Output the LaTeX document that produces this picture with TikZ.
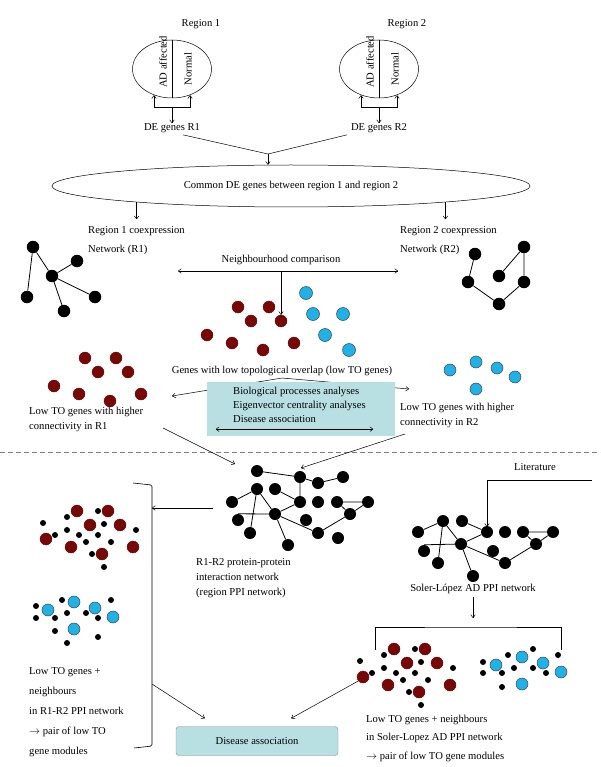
\documentclass[tikz,border=0pt]{standalone}
\usepackage{fontspec}
\setmainfont{Liberation Serif}
\usetikzlibrary{arrows.meta, positioning, shapes.geometric}
\definecolor{lowRed}{RGB}{120,8,8}
\definecolor{lowBlue}{RGB}{32,178,230}
\definecolor{paleTeal}{RGB}{184,224,227}
\tikzset{%
    gene/.style = {circle, fill=black, inner sep=0pt, minimum size=12.5pt},
    redgene/.style = {circle, fill=lowRed, draw=lowRed!80!black, inner sep=0pt, minimum size=12pt},
    bluegene/.style = {circle, fill=lowBlue, draw=black!75, line width=0.5pt, inner sep=0pt, minimum size=12pt},
    nbr/.style = {circle, fill=black, inner sep=0pt, minimum size=6pt},
    txt/.style = {font=\fontsize{10.6}{15}\selectfont, inner sep=0pt, align=left},
    lines/.style = {font=\fontsize{10.6}{#1}\selectfont},
    tissue/.style = {ellipse, draw, line width=0.5pt, minimum width=79pt, minimum height=58pt, inner sep=0pt},
    line/.style = {draw=black, line width=0.5pt, ->},
    link/.style = {draw=black, line width=0.8pt},
}
% a module of low TO genes, red (8) or blue (5)
\newcommand{\redmodule}[2]{%
    \begin{scope}[shift={(#2)}]
    \foreach \dx/\dy [count=\k] in {31/-28,62/-28,44/-14,74/-14,0/0,25/8,56/15,87/8}
        \node[redgene] (#1\k) at (\dx,\dy) {};
    \end{scope}}
\newcommand{\bluemodule}[2]{%
    \begin{scope}[shift={(#2)}]
    \foreach \dx/\dy [count=\k] in {0/0,26/-8,47/-2,65/7,26/19}
        \node[bluegene] (#1\k) at (\dx,\dy) {};
    \end{scope}}
% neighbours in the PPI network
\newcommand{\nbrdots}[3]{%
    \begin{scope}[shift={(#2)}]
    \foreach \dx/\dy [count=\k] in {#3}
        \node[nbr] (#1\k) at (\dx,\dy) {};
    \end{scope}}

\begin{document}
\begin{tikzpicture}[x=1pt, y=-1pt, >={To[length=3.5pt, width=5pt]}]
\useasboundingbox (0,0) rectangle (600,767);

% two regions
\node[tissue] (reg1) at (172,69) {};
\node[tissue] (reg2) at (379,69) {};
\node[txt] (reg1name) at (201,24) {Region 1};
\node[txt] (reg2name) at (407,24) {Region 2};
\node[txt] (deg1) at (172,128) {DE genes R1};
\node[txt] (deg2) at (379,128) {DE genes R2};
\foreach \r/\d in {reg1/deg1, reg2/deg2} {
    \draw[line width=0.5pt] (\r.north) -- (\r.south);
    \node[txt, rotate=90] (\r-ad) at ([xshift=-9pt, yshift=7pt]\r.center) {AD affected};
    \node[txt, rotate=90] (\r-nm) at ([xshift=16pt]\r.center) {Normal};
    \draw[line width=0.5pt, <->] ([xshift=-18pt, yshift=3pt]\r.south) -- ++(0,12) -- ++(36,0) -- ++(0,-12);
    \path[line] ([yshift=-9pt]\r.south) -- (\d.north);
}
\coordinate (join) at (268,154);
\draw[line width=0.5pt] ([xshift=11pt, yshift=-2pt]deg1.south) -- (join) -- ([xshift=-32pt, yshift=-2pt]deg2.south);
\node[ellipse, draw, line width=0.5pt, minimum width=478pt, minimum height=42pt, txt] (common) at (291,186)
    {Common DE genes between region 1 and region 2};
\path[line] (join) -- (join |- common.north);

% coexpression networks
\node[txt, lines=19, anchor=west] (co1) at (88,241) {Region 1 coexpression\\Network (R1)};
\node[txt, lines=19, anchor=west] (co2) at (400,241) {Region 2 coexpression\\Network (R2)};
\path[line] (common.186) -- ++(0,17);
\path[line] (common.354) -- ++(0,17);
\foreach \n/\x/\y in {a/33/247, b/77/261, c/52/276, d/27/297, e/95/297, f/64/311}
    \node[gene] (one\n) at (\x,\y) {};
\draw[link] (onea) -- (onec) (onea) -- (oned) (onec) -- (oneb) (onec) -- (onee) (onec) -- (onef);
\foreach \n/\x/\y in {a/475/254, b/524/247, c/499/276, d/468/282, e/524/282, f/499/304}
    \node[gene] (two\n) at (\x,\y) {};
\draw[link] (twoa) -- (twod) -- (twof) -- (twoe) -- (twob) -- (twoc);

% neighbourhood comparison
\node[txt] (nbh) at (281,260) {Neighbourhood comparison};
\coordinate (cmpL) at (178,271);
\coordinate (cmpR) at (398,271);
\draw[line width=0.5pt, <->] (cmpL) -- (cmpR);
\redmodule{mid}{207,335}
\foreach \x/\y [count=\k] in {306/293, 313/314, 343/314, 325/335, 349/350}
    \node[bluegene, minimum size=13pt] (cyan\k) at (\x,\y) {};
\path[line] (nbh |- cmpL) -- (mid4.north);
\node[txt] (lowto) at (282,371) {Genes with low topological overlap (low TO genes)};

% low TO genes per region
\redmodule{hiA}{54,386}
\bluemodule{hiB}{450,370}
\coordinate (tipA) at (172,396);
\coordinate (tipB) at (409,389);
\path[line] ([yshift=-2pt]lowto.south) -- (tipA);
\path[line] ([yshift=-2pt]lowto.south) -- (tipB);
\node[txt, lines=15, anchor=west] (hiAtxt) at (29,419) {Low TO genes with higher\\connectivity in R1};
\node[txt, lines=15, anchor=west] (hiBtxt) at (400,415) {Low TO genes with higher\\connectivity in R2};
\node[fill=paleTeal, minimum width=188pt, minimum height=54pt, inner sep=0pt] (tealbox) at (301,409) {};
\node[txt, lines=14, anchor=west] (tests) at (233,405)
    {Biological processes analyses\\Eigenvector centrality analyses\\Disease association};
\draw[line width=0.5pt, <->] ([xshift=9pt, yshift=7pt]tealbox.south west) -- ([xshift=-22pt, yshift=7pt]tealbox.south east);

\draw[gray, line width=0.6pt, dash pattern=on 5pt off 3pt] (0,452) -- (600,452);

% region PPI network
\foreach \n/\x/\y in {A/257/471, B/300/477, C/318/483, D/343/477, F/257/489, J/275/489, E/300/502,
    G/232/502, Q/318/502, P/337/502, O/368/502, H/275/514, K/238/520, R/306/520, N/350/514,
    I/250/533, M/318/533, S/338/538, L/288/545}
    \node[gene, minimum size=12pt] (p\n) at (\x,\y) {};
\draw[link] (pA) -- (pB) -- (pC) -- (pD) (pB) -- (pE) (pF) -- (pG) (pF) -- (pH) (pF) -- (pI)
    (pJ) -- (pE) -- (pH) (pK.north) -- (pH) (pH) -- (pL) (pH) -- (pM) -- (pN) -- (pO) -- (pP) -- (pN);
\coordinate (fromA) at (163,428);
\coordinate (fromB) at (405,434);
\path[line] (fromA) -- ([xshift=-22pt, yshift=7pt]pA.center);
\path[line] (fromB) -- ([xshift=-42pt, yshift=9pt]pD.center);
\node[txt, lines=15, anchor=west] (ppitxt) at (196,578) {R1-R2 protein-protein\\interaction network\\(region PPI network)};

% modules in the region PPI network
\coordinate (brTop) at (152,485);
\coordinate (brBot) at (152,746);
\draw[line width=0.6pt, rounded corners=1.5pt] (133,483) -- (brTop) -- (brBot) -- (134,748);
\coordinate (fromG) at (213,508);
\path[line] (fromG) -- (fromG -| brTop);
\nbrdots{dA}{46,539}{-3/-16,21/-22,52/-28,58/-15,21/-9,9/-4,33/-4,52/-4,40/3,65/3,90/-9,46/15,58/28}
\redmodule{modA}{46,539}
\nbrdots{dB}{48,610}{-12/-4,-12/8,14/-10,7/8,19/3,38/3,63/-10,50/8,7/21,50/27,19/33}
\bluemodule{modB}{48,610}
\node[txt, lines=20, anchor=west] (modtxtA) at (29,712)
    {Low TO genes +\\neighbours\\in R1-R2 PPI network\\$\rightarrow$ pair of low TO\\gene modules};

% Soler-Lopez network
\node[txt] (lit) at (535,467) {Literature};
\coordinate (litL) at (487,480);
\coordinate (litR) at (592,480);
\draw[line width=0.5pt] (litL) -- (litR);
\foreach \n/\x/\y in {a/418/532, b/443/521, c/462/521, d/487/532, e/505/532, f/523/532, g/553/532,
    h/424/551, i/461/544, j/493/551, k/536/544, l/438/563, m/505/563, n/473/576}
    \node[gene, minimum size=12pt] (s\n) at (\x,\y) {};
\draw[link] (sa) -- (sb) -- (si) (sb) -- (sl) (sc) -- (sd) -- (si) (sh.north) -- (si) (si) -- (sn)
    (si) -- (sm) -- (sk) -- (sg) -- (sf) -- (sk);
\path[line] (litL) -- ([yshift=-12pt]litL |- sb.north);
\node[txt] (soltxt) at (473,589) {Soler-López AD PPI network};
\coordinate (brMid) at (473,627);
\draw[line width=0.6pt] (375,650) -- (375,627) -- (brMid) -- (561,627) -- (561,650);
\path[line] ([yshift=-3pt]soltxt.south) -- ([yshift=9pt]brMid);
\nbrdots{dC}{363,677}{-3/-16,21/-22,52/-28,58/-15,21/-9,9/-4,33/-4,52/-4,40/3,65/3,90/-9,46/15,58/28}
\redmodule{modC}{363,677}
\nbrdots{dD}{496,665}{-13/-3,-13/8,12/-10,6/8,18/3,37/-16,37/3,62/-10,50/8,6/22}
\bluemodule{modD}{496,665}
\node[txt, lines=18.5, anchor=west] (modtxtC) at (366,738)
    {Low TO genes + neighbours\\in Soler-Lopez AD PPI network\\$\rightarrow$ pair of low TO gene modules};

% disease association
\node[draw=black!45, fill=paleTeal, rounded corners=3pt, minimum width=162pt, minimum height=29pt, txt] (disease) at (257,741) {Disease association};
\coordinate (fromBr) at (152,684);
\path[line] (fromBr) -- ([xshift=29pt, yshift=8pt]disease.north west);
\path[line] (modC5.220) -- ([xshift=-47pt, yshift=8pt]disease.north east);
\end{tikzpicture}
\end{document}
